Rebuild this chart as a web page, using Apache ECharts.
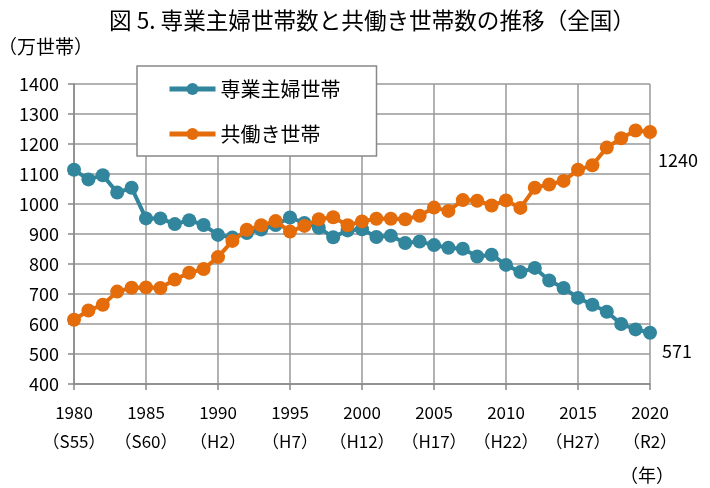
<!DOCTYPE html>
<html><head><meta charset="utf-8">
<script src="https://cdn.jsdelivr.net/npm/echarts@6/dist/echarts.min.js"></script>
<style>html,body{margin:0;padding:0;background:#fff}#c{width:710px;height:488px}</style>
</head><body><div id="c"></div>
<script>
const years = [];
for (let y = 1980; y <= 2020; y++) years.push(y);
const housewife = [1114,1082,1096,1038,1054,952,952,933,946,930,897,888,903,915,930,955,937,921,889,912,916,890,894,870,875,863,854,851,825,831,797,773,787,745,720,687,664,641,600,582,571];
const dualIncome = [614,645,664,708,721,722,720,748,771,783,823,877,914,929,943,908,927,949,956,929,942,951,951,949,961,988,977,1013,1011,995,1012,987,1054,1065,1077,1114,1129,1188,1219,1245,1240];
const tickYears = [1980,1985,1990,1995,2000,2005,2010,2015,2020];
const eraLabels = ['（S55）','（S60）','（H2）','（H7）','（H12）','（H17）','（H22）','（H27）','（R2）'];
const seriesNames = ['専業主婦世帯','共働き世帯'];
const colors = ['#31859C','#E46C0A'];

const FONT = '"Noto Sans CJK JP", "Noto Sans", sans-serif';
const GFONT = FONT.replace(/"/g,"'");
function build(vals, endOffset){
  return vals.map((v,i)=>{
    const d = {value:[years[i], v]};
    if (i === vals.length-1) d.label = {show:true, position:'right', offset:endOffset, formatter: String(v), color:'#000', fontSize:18, fontFamily:FONT};
    return d;
  });
}
const chart = echarts.init(document.getElementById('c'));
chart.setOption({
  animation:false,
  backgroundColor:'#fff',
  title:{text:'図 5. 専業主婦世帯数と共働き世帯数の推移（全国）', left:104, top:4,
    textStyle:{fontFamily:FONT, fontSize:22.6, fontWeight:'normal', color:'#000'}},
  grid:{left:74, right:60, top:84, bottom:104},
  legend:{orient:'vertical', left:137, top:66, data:seriesNames,
    itemWidth:46, itemHeight:15, itemGap:25, padding:[13,36,12,30],
    lineStyle:{width:5},
    backgroundColor:'#fff', borderColor:'#888', borderWidth:1.5,
    textStyle:{fontFamily:FONT, fontSize:20, color:'#000'}},
  xAxis:{type:'value', min:1980, max:2020, interval:5,
    axisLine:{lineStyle:{color:'#888', width:1.5}},
    axisTick:{show:true, length:6, lineStyle:{color:'#888', width:1.5}},
    splitLine:{show:true, lineStyle:{color:'#999', width:1.5}},
    axisLabel:{margin:14, lineHeight:29, fontFamily:FONT, fontSize:17, color:'#000',
      formatter:v=>{const i=tickYears.indexOf(v); return v+'\n'+(i>=0?eraLabels[i]:'');}}},
  yAxis:{type:'value', min:400, max:1400, interval:100,
    axisLine:{show:true, lineStyle:{color:'#888', width:1.5}},
    axisTick:{show:true, length:6, lineStyle:{color:'#888', width:1.5}},
    splitLine:{lineStyle:{color:'#999', width:1.5}},
    axisLabel:{margin:15, fontFamily:FONT, fontSize:18, color:'#000', formatter:v=>String(v)}},
  graphic:[
    {type:'text', left:-2, top:37, style:{text:'（万世帯）', font:'19px '+GFONT, fill:'#000'}},
    {type:'text', left:620, top:466, style:{text:'（年）', font:'18px '+GFONT, fill:'#000'}}
  ],
  series:[
    {name:seriesNames[0], type:'line', data:build(housewife,[0,18]), symbol:'circle', symbolSize:14,
     itemStyle:{color:colors[0]}, lineStyle:{color:colors[0], width:4}, z:3},
    {name:seriesNames[1], type:'line', data:build(dualIncome,[-4,28]), symbol:'circle', symbolSize:14,
     itemStyle:{color:colors[1]}, lineStyle:{color:colors[1], width:4}, z:4}
  ]
});
</script></body></html>
